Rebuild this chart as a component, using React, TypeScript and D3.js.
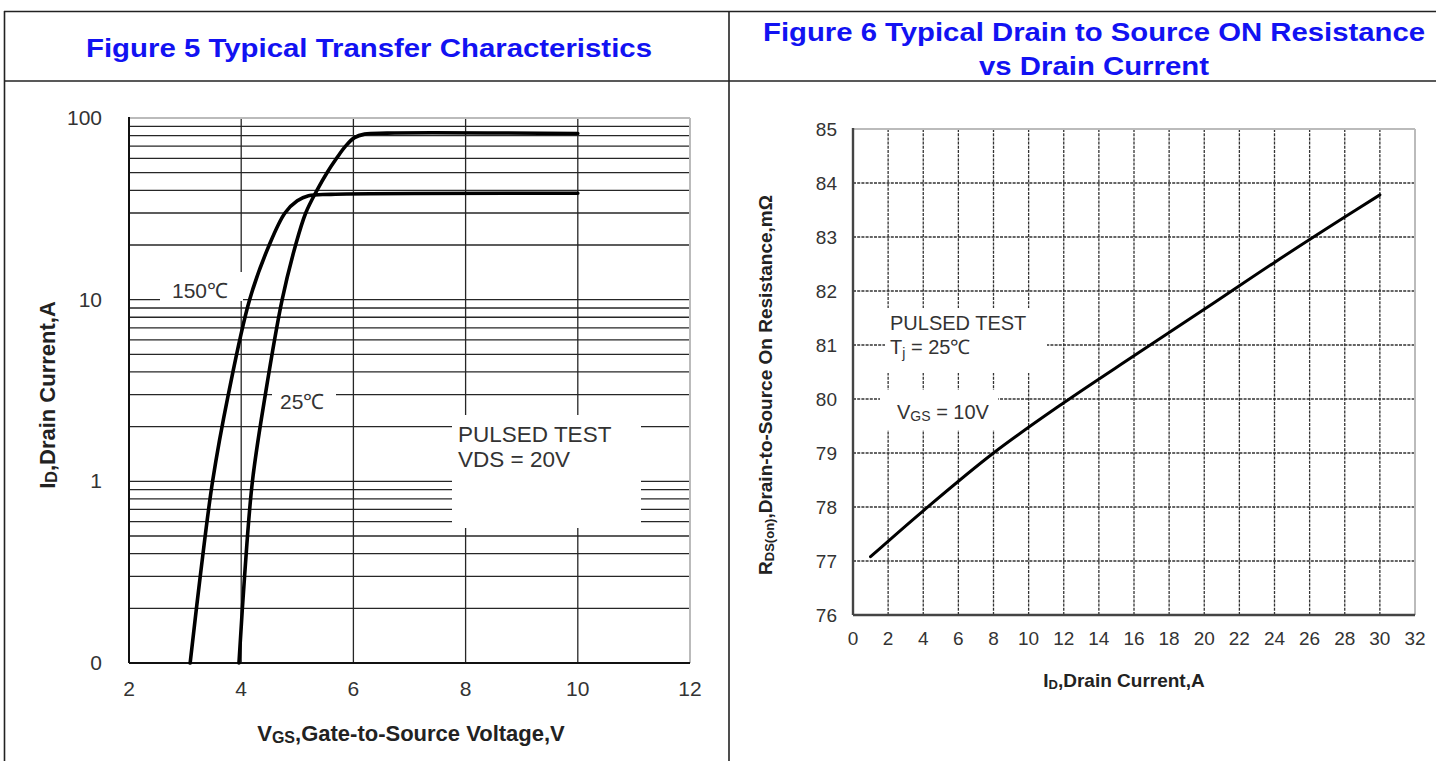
import React from 'react';
import * as d3 from 'd3';

// ---------- Figure 5 data ----------
const vgsTicks = [2, 4, 6, 8, 10, 12];
const idTickValues = [0.1, 1, 10, 100];
const idTickLabels = ['0', '1', '10', '100'];
const vgsGrid = [4, 6, 8, 10];

const t150Vgs = [3.09, 3.27, 3.49, 3.77, 4.15, 4.5, 4.78, 5.0, 5.2, 5.6, 10];
const t150Id = [0.1, 0.3, 1, 3, 10, 20, 30, 35, 37.3, 38, 38.5];

const t25Vgs = [3.96, 4.06, 4.2, 4.43, 4.73, 4.97, 5.15, 5.35, 5.53, 5.7, 5.86, 6.02, 6.2, 6.6, 10];
const t25Id = [0.1, 0.3, 1, 3, 10, 20, 30, 40, 50, 60, 70, 78, 81.5, 82.6, 82.2];

// ---------- Figure 6 data ----------
const idTicksR = [0, 2, 4, 6, 8, 10, 12, 14, 16, 18, 20, 22, 24, 26, 28, 30, 32];
const rdsTicks = [76, 77, 78, 79, 80, 81, 82, 83, 84, 85];
const rId = [1, 4, 8, 12, 16, 20, 24, 28, 30];
const rRds = [77.08, 77.93, 79.0, 79.93, 80.8, 81.66, 82.53, 83.37, 83.78];

const FONT = '"Liberation Sans", Arial, sans-serif';
const BLUE = '#1212f2';
const TXT = '#333';

export default function App() {
  const xL = d3.scaleLinear().domain([2, 12]).range([129, 690]);
  const yL = d3.scaleLog().domain([0.1, 100]).range([663, 118]);
  const xR = d3.scaleLinear().domain([0, 32]).range([853, 1415]);
  const yR = d3.scaleLinear().domain([76, 85]).range([615, 129]);

  const lineL = d3
    .line<[number, number]>()
    .x((d) => xL(d[0]))
    .y((d) => yL(d[1]))
    .curve(d3.curveCatmullRom.alpha(0.5));
  const lineR = d3
    .line<[number, number]>()
    .x((d) => xR(d[0]))
    .y((d) => yR(d[1]))
    .curve(d3.curveCatmullRom.alpha(0.5));

  const c150 = t150Vgs.map((v, i) => [v, t150Id[i]] as [number, number]);
  const c25 = t25Vgs.map((v, i) => [v, t25Id[i]] as [number, number]);
  const cR = rId.map((v, i) => [v, rRds[i]] as [number, number]);

  const hTicksL = yL.ticks().filter((t) => t > 0.1 && t < 100);

  return (
    <svg
      width={1436}
      height={761}
      style={{ position: 'absolute', left: 0, top: 0, background: '#fff' }}
      fontFamily={FONT}
    >
      <rect x={0} y={0} width={1436} height={761} fill="#fff" />
      {/* table frame */}
      <line x1={4} x2={1436} y1={11.5} y2={11.5} stroke="#222" strokeWidth={1.6} />
      <line x1={4} x2={1436} y1={81} y2={81} stroke="#222" strokeWidth={1.6} />
      <line x1={4.5} x2={4.5} y1={11} y2={761} stroke="#222" strokeWidth={1.6} />
      <line x1={729} x2={729} y1={11} y2={761} stroke="#222" strokeWidth={1.6} />

      {/* titles */}
      <text x={369} y={57} textAnchor="middle" fontSize={26} fontWeight="bold" fill={BLUE} textLength={566} lengthAdjust="spacingAndGlyphs">
        Figure 5 Typical Transfer Characteristics
      </text>
      <text x={1094} y={41} textAnchor="middle" fontSize={26} fontWeight="bold" fill={BLUE} textLength={662} lengthAdjust="spacingAndGlyphs">
        Figure 6 Typical Drain to Source ON Resistance
      </text>
      <text x={1094} y={75} textAnchor="middle" fontSize={26} fontWeight="bold" fill={BLUE} textLength={230} lengthAdjust="spacingAndGlyphs">
        vs Drain Current
      </text>

      {/* ---------- Figure 5 ---------- */}
      <g>
        {hTicksL.map((t) => (
          <line key={'h' + t} x1={xL(2)} x2={xL(12)} y1={yL(t)} y2={yL(t)} stroke="#262626" strokeWidth={1.3} />
        ))}
        {vgsGrid.map((v) => (
          <line key={'v' + v} x1={xL(v)} x2={xL(v)} y1={yL(100)} y2={yL(0.1)} stroke="#262626" strokeWidth={1.3} />
        ))}
        <line x1={xL(2)} x2={xL(12)} y1={yL(100)} y2={yL(100)} stroke="#bbb" strokeWidth={2} />
        <line x1={xL(12)} x2={xL(12)} y1={yL(100)} y2={yL(0.1)} stroke="#bbb" strokeWidth={2} />
        <line x1={xL(2)} x2={xL(2)} y1={yL(100) - 1} y2={yL(0.1)} stroke="#111" strokeWidth={2} />
        <line x1={xL(2)} x2={xL(12)} y1={yL(0.1)} y2={yL(0.1)} stroke="#111" strokeWidth={2} />

        {/* label boxes */}
        <rect x={160} y={272} width={83} height={29} fill="#fff" />
        <rect x={272} y={382} width={64} height={36} fill="#fff" />
        <rect x={452} y={415} width={189} height={113} fill="#fff" />

        <path d={lineL(c150) || ''} fill="none" stroke="#000" strokeWidth={3.6} strokeLinecap="round" />
        <path d={lineL(c25) || ''} fill="none" stroke="#000" strokeWidth={3.6} strokeLinecap="round" />

        <text x={172} y={298} fontSize={21} fill={TXT}>150℃</text>
        <text x={280} y={409} fontSize={21} fill={TXT}>25℃</text>
        <text x={458} y={442} fontSize={22.5} fill={TXT}>PULSED TEST</text>
        <text x={458} y={467} fontSize={22.5} fill={TXT}>VDS = 20V</text>

        {idTickValues.map((v, i) => (
          <text key={'yl' + v} x={102} y={yL(v) + 7} textAnchor="end" fontSize={21} fill={TXT}>
            {idTickLabels[i]}
          </text>
        ))}
        {vgsTicks.map((v) => (
          <text key={'xl' + v} x={xL(v)} y={696} textAnchor="middle" fontSize={21} fill={TXT}>
            {v}
          </text>
        ))}
        <text x={411} y={741} textAnchor="middle" fontSize={22} fontWeight="bold" fill="#222">
          V<tspan fontSize={16} dy={2}>GS</tspan>
          <tspan dy={-2}>,Gate-to-Source Voltage,V</tspan>
        </text>
        <text transform="translate(55,395) rotate(-90)" textAnchor="middle" fontSize={22} fontWeight="bold" fill="#222">
          I<tspan fontSize={16} dy={2}>D</tspan>
          <tspan dy={-2}>,Drain Current,A</tspan>
        </text>
      </g>

      {/* ---------- Figure 6 ---------- */}
      <g>
        {rdsTicks.slice(1, -1).map((t) => (
          <line key={'rh' + t} x1={xR(0)} x2={xR(32)} y1={yR(t)} y2={yR(t)} stroke="#333" strokeWidth={1.3} strokeDasharray="3 1.2" />
        ))}
        {idTicksR.slice(1, -1).map((t) => (
          <line key={'rv' + t} x1={xR(t)} x2={xR(t)} y1={yR(85)} y2={yR(76)} stroke="#333" strokeWidth={1.3} strokeDasharray="3 1.2" />
        ))}
        <line x1={xR(0)} x2={xR(32)} y1={yR(85)} y2={yR(85)} stroke="#bbb" strokeWidth={2} />
        <line x1={xR(32)} x2={xR(32)} y1={yR(85)} y2={yR(76)} stroke="#bbb" strokeWidth={2} />
        <line x1={xR(0)} x2={xR(0)} y1={yR(85) - 1} y2={yR(76)} stroke="#444" strokeWidth={2.4} />
        <line x1={xR(0)} x2={xR(32)} y1={yR(76)} y2={yR(76)} stroke="#444" strokeWidth={2.4} />

        <rect x={885} y={308} width={162} height={65} fill="#fff" />
        <rect x={880} y={390} width={118} height={40} fill="#fff" />

        <path d={lineR(cR) || ''} fill="none" stroke="#000" strokeWidth={3} strokeLinecap="round" />

        <text x={890} y={330} fontSize={20} fill={TXT}>PULSED TEST</text>
        <text x={890} y={354} fontSize={20} fill={TXT}>
          T<tspan fontSize={14} dy={4}>j</tspan>
          <tspan dy={-4}> = 25℃</tspan>
        </text>
        <text x={897} y={419} fontSize={20} fill={TXT}>
          V<tspan fontSize={14} dy={2}>GS</tspan>
          <tspan dy={-2}> = 10V</tspan>
        </text>

        {rdsTicks.map((t) => (
          <text key={'ry' + t} x={837} y={yR(t) + 7} textAnchor="end" fontSize={19} fill={TXT}>
            {t}
          </text>
        ))}
        {idTicksR.map((t) => (
          <text key={'rx' + t} x={xR(t)} y={645} textAnchor="middle" fontSize={19} fill={TXT}>
            {t}
          </text>
        ))}
        <text x={1124} y={687} textAnchor="middle" fontSize={19} fontWeight="bold" fill="#222">
          I<tspan fontSize={13} dy={2}>D</tspan>
          <tspan dy={-2}>,Drain Current,A</tspan>
        </text>
        <text transform="translate(772,385) rotate(-90)" textAnchor="middle" fontSize={19} fontWeight="bold" fill="#222">
          R<tspan fontSize={13} dy={2}>DS(on)</tspan>
          <tspan dy={-2}>,Drain-to-Source On Resistance,mΩ</tspan>
        </text>
      </g>
    </svg>
  );
}
